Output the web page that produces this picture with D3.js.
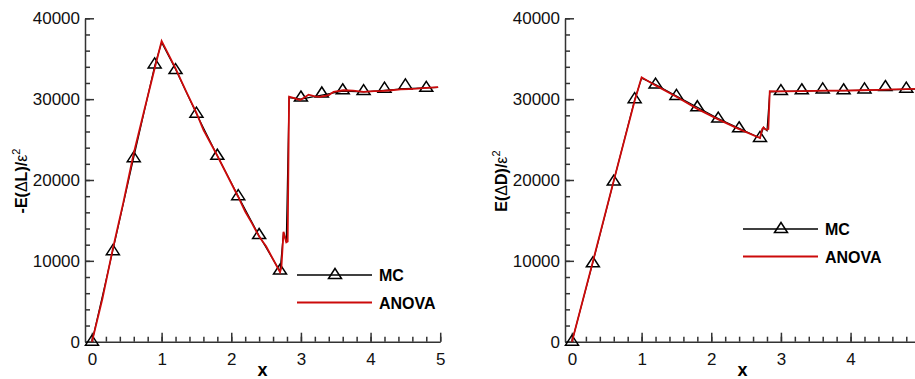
<!DOCTYPE html>
<html>
<head>
<script src="https://cdnjs.cloudflare.com/ajax/libs/d3/7.8.5/d3.min.js"></script>
<style>
  body { margin: 0; background: #fff; }
  text { font-family: "Liberation Sans", Arial, sans-serif; }
</style>
</head>
<body>
<div id="vis"></div>
<script type="text/javascript">

    // MC samples (every 0.3)
    const mcX = [0, 0.3, 0.6, 0.9, 1.2, 1.5, 1.8, 2.1, 2.4, 2.7, 3.0, 3.3, 3.6, 3.9, 4.2, 4.5, 4.8];
    const liftMC = [0, 11200, 22700, 34300, 33600, 28200, 23000, 18000, 13200, 8800, 30200, 30700, 31100, 31000, 31300, 31700, 31400];
    const dragMC = [0, 9700, 19800, 30000, 31800, 30400, 29000, 27600, 26400, 25200, 31000, 31100, 31200, 31100, 31200, 31500, 31300];

    // MC line (hidden mostly under ANOVA), incl. the shock region
    const liftMCLineX = [0, 0.3, 0.6, 0.9, 1.0, 1.2, 1.5, 1.8, 2.1, 2.4, 2.7, 2.75, 2.79, 2.83, 3.0, 3.3, 3.6, 3.9, 4.2, 4.5, 4.8, 4.97];
    const liftMCLineY = [0, 11300, 22800, 34100, 37000, 33700, 28200, 23000, 18000, 13100, 8700, 13500, 12400, 30200, 30000, 30500, 31000, 30900, 31100, 31300, 31400, 31450];
    const dragMCLineX = [0, 0.3, 0.6, 0.9, 1.0, 1.2, 1.5, 1.8, 2.1, 2.4, 2.7, 2.75, 2.8, 2.84, 3.0, 3.3, 3.6, 3.9, 4.2, 4.5, 4.8, 5.0];
    const dragMCLineY = [0, 9800, 19900, 29900, 32600, 31800, 30400, 29000, 27600, 26400, 25200, 26500, 26100, 30900, 30950, 31000, 31050, 31050, 31100, 31150, 31200, 31250];

    // ANOVA curves
    const liftAnovaX = [0, 0.15, 0.3, 0.45, 0.6, 0.75, 0.9, 1.0, 1.1, 1.2, 1.35, 1.5, 1.6, 1.8, 2.0, 2.1, 2.2, 2.3, 2.4, 2.5, 2.6, 2.7, 2.72, 2.75, 2.79, 2.81, 2.83, 2.88, 2.99, 3.05, 3.11, 3.2, 3.28, 3.4, 3.47, 3.61, 3.75, 3.9, 4.05, 4.14, 4.3, 4.43, 4.55, 4.66, 4.8, 4.97];
    const liftAnovaY = [0, 5300, 11500, 17200, 23300, 28600, 33800, 37200, 35500, 33800, 31000, 28300, 26200, 23000, 19600, 17900, 16100, 14600, 13000, 11800, 10200, 8600, 9200, 13600, 12300, 12400, 30300, 30200, 29900, 30200, 30550, 30350, 30300, 30500, 30900, 31100, 31050, 30900, 31000, 31000, 31100, 31200, 31250, 31300, 31400, 31500];
    const dragAnovaX = [0, 0.3, 0.6, 0.9, 1.0, 1.2, 1.5, 1.8, 2.1, 2.4, 2.7, 2.73, 2.75, 2.77, 2.8, 2.82, 2.84, 3.0, 3.3, 3.66, 3.9, 4.14, 4.4, 4.62, 4.8, 5.0];
    const dragAnovaY = [0, 9900, 19900, 29800, 32700, 31700, 30300, 28800, 27500, 26300, 25200, 26300, 26500, 26300, 26200, 26300, 31000, 30950, 31000, 31050, 31050, 31100, 31150, 31200, 31250, 31300];

    const xTicks = [0, 1, 2, 3, 4, 5];
    const yTicks = [0, 10000, 20000, 30000, 40000];
    const xMinor = d3.range(0, 5.01, 0.2);
    const yMinor = d3.range(0, 40001, 2000);

    const W = 915, H = 379;
    const svg = d3.select("#vis").append("svg").attr("width", W).attr("height", H);

    const tri = "M0,-6.5L6.5,3.5L-6.5,3.5Z";

    function panel(opts) {
        const g = svg.append("g");
        const x = d3.scaleLinear().domain([-0.1, 5]).range([opts.left, opts.left + 5.1 * 69.65]);
        const y = d3.scaleLinear().domain([0, 40000]).range([341.7, 18.3]);
        // only label ticks that fit inside the picture
        const xt = xTicks.filter(v => x(v) < W - 4);

        // minor ticks
        g.append("g").attr("transform", `translate(0,${y(0)})`)
            .call(d3.axisBottom(x).tickValues(xMinor).tickSize(-5).tickSizeOuter(0).tickFormat(""))
            .call(a => a.select(".domain").remove());
        g.append("g").attr("transform", `translate(${opts.left},0)`)
            .call(d3.axisLeft(y).tickValues(yMinor).tickSize(-5).tickSizeOuter(0).tickFormat(""))
            .call(a => a.select(".domain").remove());

        g.append("g").attr("transform", `translate(0,${y(0)})`)
            .call(d3.axisBottom(x).tickValues(xt).tickSize(-9).tickSizeOuter(0).tickPadding(11).tickFormat(d3.format("d")));
        g.append("g").attr("transform", `translate(${opts.left},0)`)
            .call(d3.axisLeft(y).tickValues(yTicks).tickSize(-9).tickSizeOuter(0).tickPadding(5).tickFormat(d3.format("d")));
        g.selectAll(".tick line, .domain").attr("stroke", "#333").attr("stroke-width", 1.5);
        g.selectAll(".tick text").attr("font-size", 17).attr("fill", "#111")
            .style("font-family", "'Liberation Sans', Arial, sans-serif");

        // axis titles
        g.append("text").attr("x", x(-0.1) + (x(5) - x(-0.1)) / 2).attr("y", 376)
            .attr("text-anchor", "middle").attr("font-size", 18).attr("font-weight", "bold").text("x");
        const t = g.append("text")
            .attr("transform", `translate(${opts.titleX},181) rotate(-90)`)
            .attr("text-anchor", "middle").attr("font-size", 16).attr("font-weight", "bold");
        t.append("tspan").text(opts.pre);
        t.append("tspan").attr("font-weight", "normal").text("\u0394");
        t.append("tspan").text(opts.sym + ")/");
        t.append("tspan").attr("font-weight", "normal").text("\u03b5");
        t.append("tspan").attr("font-weight", "normal").attr("font-size", 11).attr("dy", -7).text("2");

        const line = d3.line().x(d => x(d[0])).y(d => y(d[1]));

        // MC black line + markers
        g.append("path").datum(d3.zip(opts.mcLineX, opts.mcLineY)).attr("d", line)
            .attr("fill", "none").attr("stroke", "#000").attr("stroke-width", 1.2);
        g.append("g").selectAll("path").data(d3.zip(mcX, opts.mc)).join("path")
            .attr("d", tri).attr("transform", d => `translate(${x(d[0])},${y(d[1])})`)
            .attr("fill", "none").attr("stroke", "#000").attr("stroke-width", 1.5);

        // ANOVA red line
        g.append("path").datum(d3.zip(opts.anX, opts.anY)).attr("d", line)
            .attr("fill", "none").attr("stroke", "#cc0a0a").attr("stroke-width", 1.8);

        // legend
        const lg = g.append("g").attr("transform", `translate(${opts.legX},${opts.legY})`);
        lg.append("line").attr("x1", 0).attr("x2", 75).attr("y1", 0).attr("y2", 0)
            .attr("stroke", "#000").attr("stroke-width", 1.3);
        lg.append("path").attr("d", tri).attr("transform", "translate(38,0)")
            .attr("fill", "none").attr("stroke", "#000").attr("stroke-width", 1.5);
        lg.append("text").attr("x", 82).attr("y", 6).attr("font-size", 16).attr("font-weight", "bold").text("MC");
        lg.append("line").attr("x1", 0).attr("x2", 75).attr("y1", 27.5).attr("y2", 27.5)
            .attr("stroke", "#cc0a0a").attr("stroke-width", 1.8);
        lg.append("text").attr("x", 82).attr("y", 33.5).attr("font-size", 16).attr("font-weight", "bold").text("ANOVA");
    }

    panel({left: 85, titleX: 27, pre: "-E(", sym: "L", mc: liftMC, mcLineX: liftMCLineX, mcLineY: liftMCLineY,
           anX: liftAnovaX, anY: liftAnovaY, legX: 297, legY: 275});
    panel({left: 565, titleX: 507, pre: "E(", sym: "D", mc: dragMC, mcLineX: dragMCLineX, mcLineY: dragMCLineY,
           anX: dragAnovaX, anY: dragAnovaY, legX: 743, legY: 229});

</script>
</body>
</html>
